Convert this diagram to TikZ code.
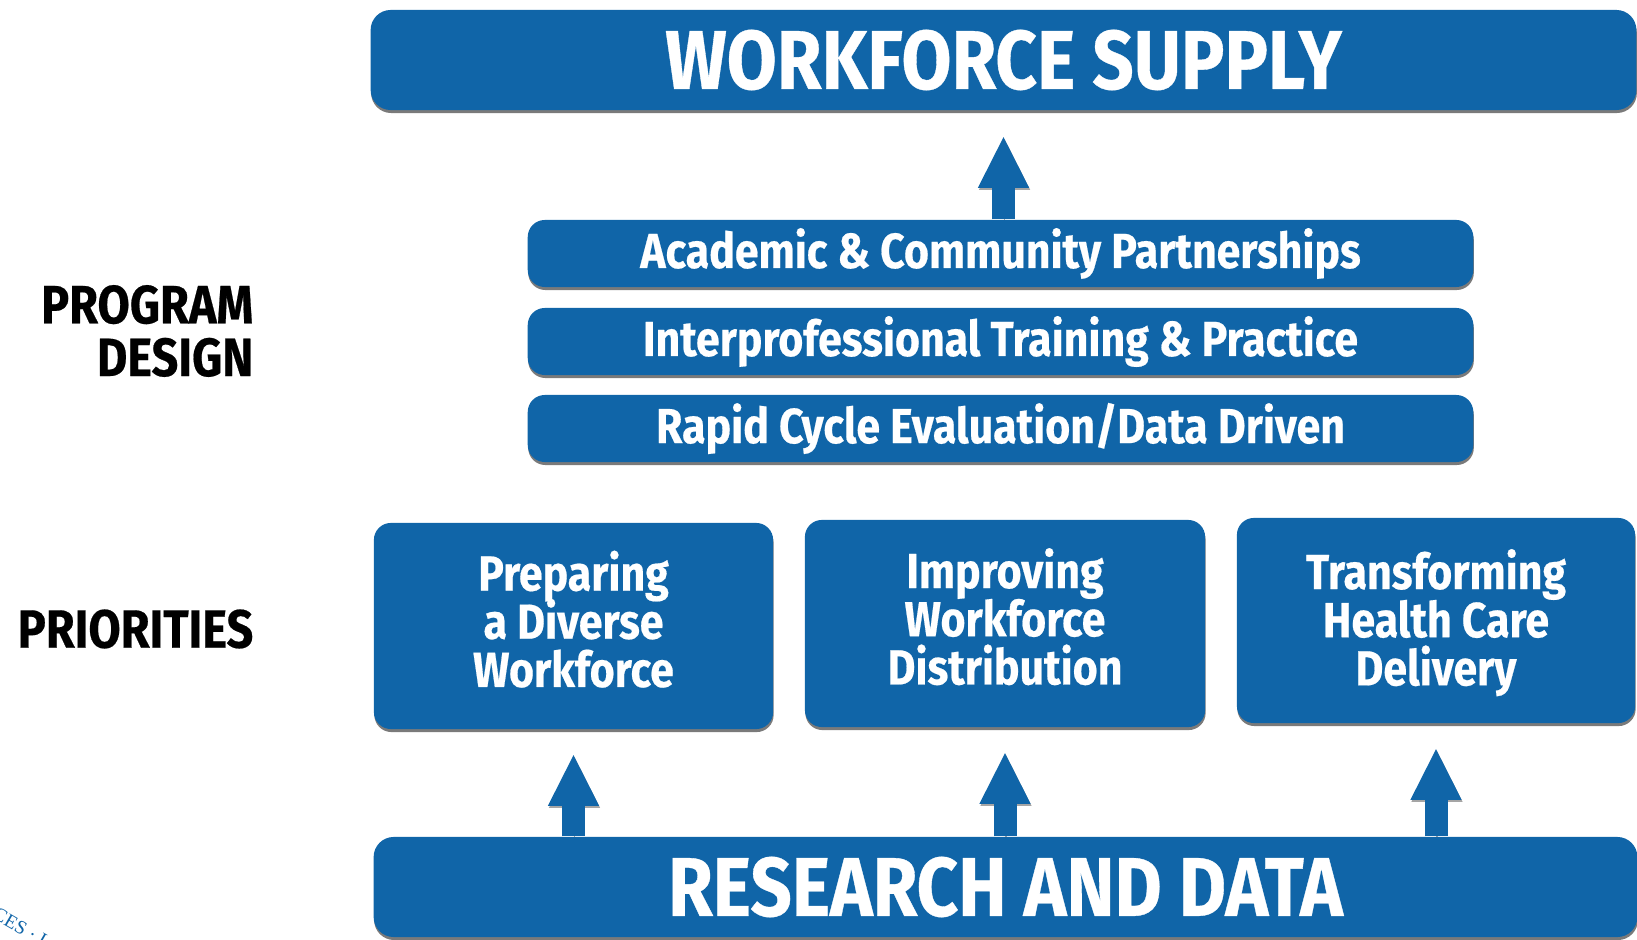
\documentclass[tikz,border=0pt]{standalone}
\usepackage{fontspec}
\setmainfont{Fira Sans}[FakeStretch=0.87, BoldFeatures={FakeBold=0.4}]
\newfontfamily\sealfont{Liberation Serif}
\usetikzlibrary{shadows,arrows.meta,backgrounds}
\definecolor{hrsablue}{RGB}{16,101,168}
\setlength{\lineskiplimit}{-10pt}

\begin{document}
\begin{tikzpicture}[x=0.01cm,y=0.01cm,
  bar/.style={fill=hrsablue, rounded corners=0.17cm, text=white, align=center, inner sep=0pt,
    font=\bfseries\fontsize{14}{13.7}\selectfont,
    drop shadow={shadow xshift=0.005cm, shadow yshift=-0.03cm, opacity=0.65, fill=black!80}},
  bigbar/.style={bar, rounded corners=0.2cm, minimum height=1cm, font=\bfseries\fontsize{23.7}{28}\selectfont},
  up/.style={draw=hrsablue, line width=0.23cm, -{Triangle[width=0.47cm,length=0.52cm]},
    preaction={draw=black!70, opacity=0.5, transform canvas={shift={(0.01cm,-0.02cm)}}}},
  side/.style={anchor=east, align=right, inner sep=0pt, font=\bfseries\fontsize{15.3}{15}\selectfont}]
\useasboundingbox (0,0) rectangle (1637,939);
\clip (0,0) rectangle (1637,939);
% top and bottom
\node[bigbar, minimum width=12.65cm] (supply) at (1003.5,879) {WORKFORCE SUPPLY};
\node[bigbar, minimum width=12.63cm] (research) at (1005.5,52) {RESEARCH AND DATA};
% program design
\node[bar, minimum width=9.45cm, minimum height=0.67cm] (partner) at (1000.5,685.5) {Academic \& Community Partnerships};
\node[bar, minimum width=9.45cm, minimum height=0.67cm] (ipe) at (1000.5,597.5) {Interprofessional Training \& Practice};
\node[bar, minimum width=9.45cm, minimum height=0.67cm] (rapid) at (1000.5,510.5) {Rapid Cycle Evaluation/Data Driven};
% priorities
\node[bar, minimum width=3.99cm, minimum height=2.06cm] (diverse) at (573.5,313) {Preparing\\a Diverse\\Workforce\strut};
\node[bar, minimum width=4cm, minimum height=2.07cm] (distrib) at (1005,315.5) {Improving\\Workforce\\Distribution\strut};
\node[bar, minimum width=3.98cm, minimum height=2.05cm] (delivery) at (1436,318.5) {\rule{0pt}{12.6pt}Transforming\\Health Care\\Delivery};
% side labels
\node[side] (design) at (254,608) {PROGRAM\\DESIGN};
\node[side] (prio) at (254,310) {PRIORITIES};
\node[rotate=-30, text=hrsablue, font=\sealfont\fontsize{5.5}{5.5}\selectfont] (seal) at (20,12) {CES · I};
% arrows
\begin{scope}[on background layer]
\path[up, shorten >=0.24cm] (research.north -| diverse) -- (diverse.south);
\path[up, shorten >=0.24cm] (research.north -| distrib) -- (distrib.south);
\path[up, shorten >=0.24cm] (research.north -| delivery) -- (delivery.south);
\path[up, shorten >=0.25cm] (partner.north -| supply) -- (supply.south);
\end{scope}
\end{tikzpicture}
\end{document}
